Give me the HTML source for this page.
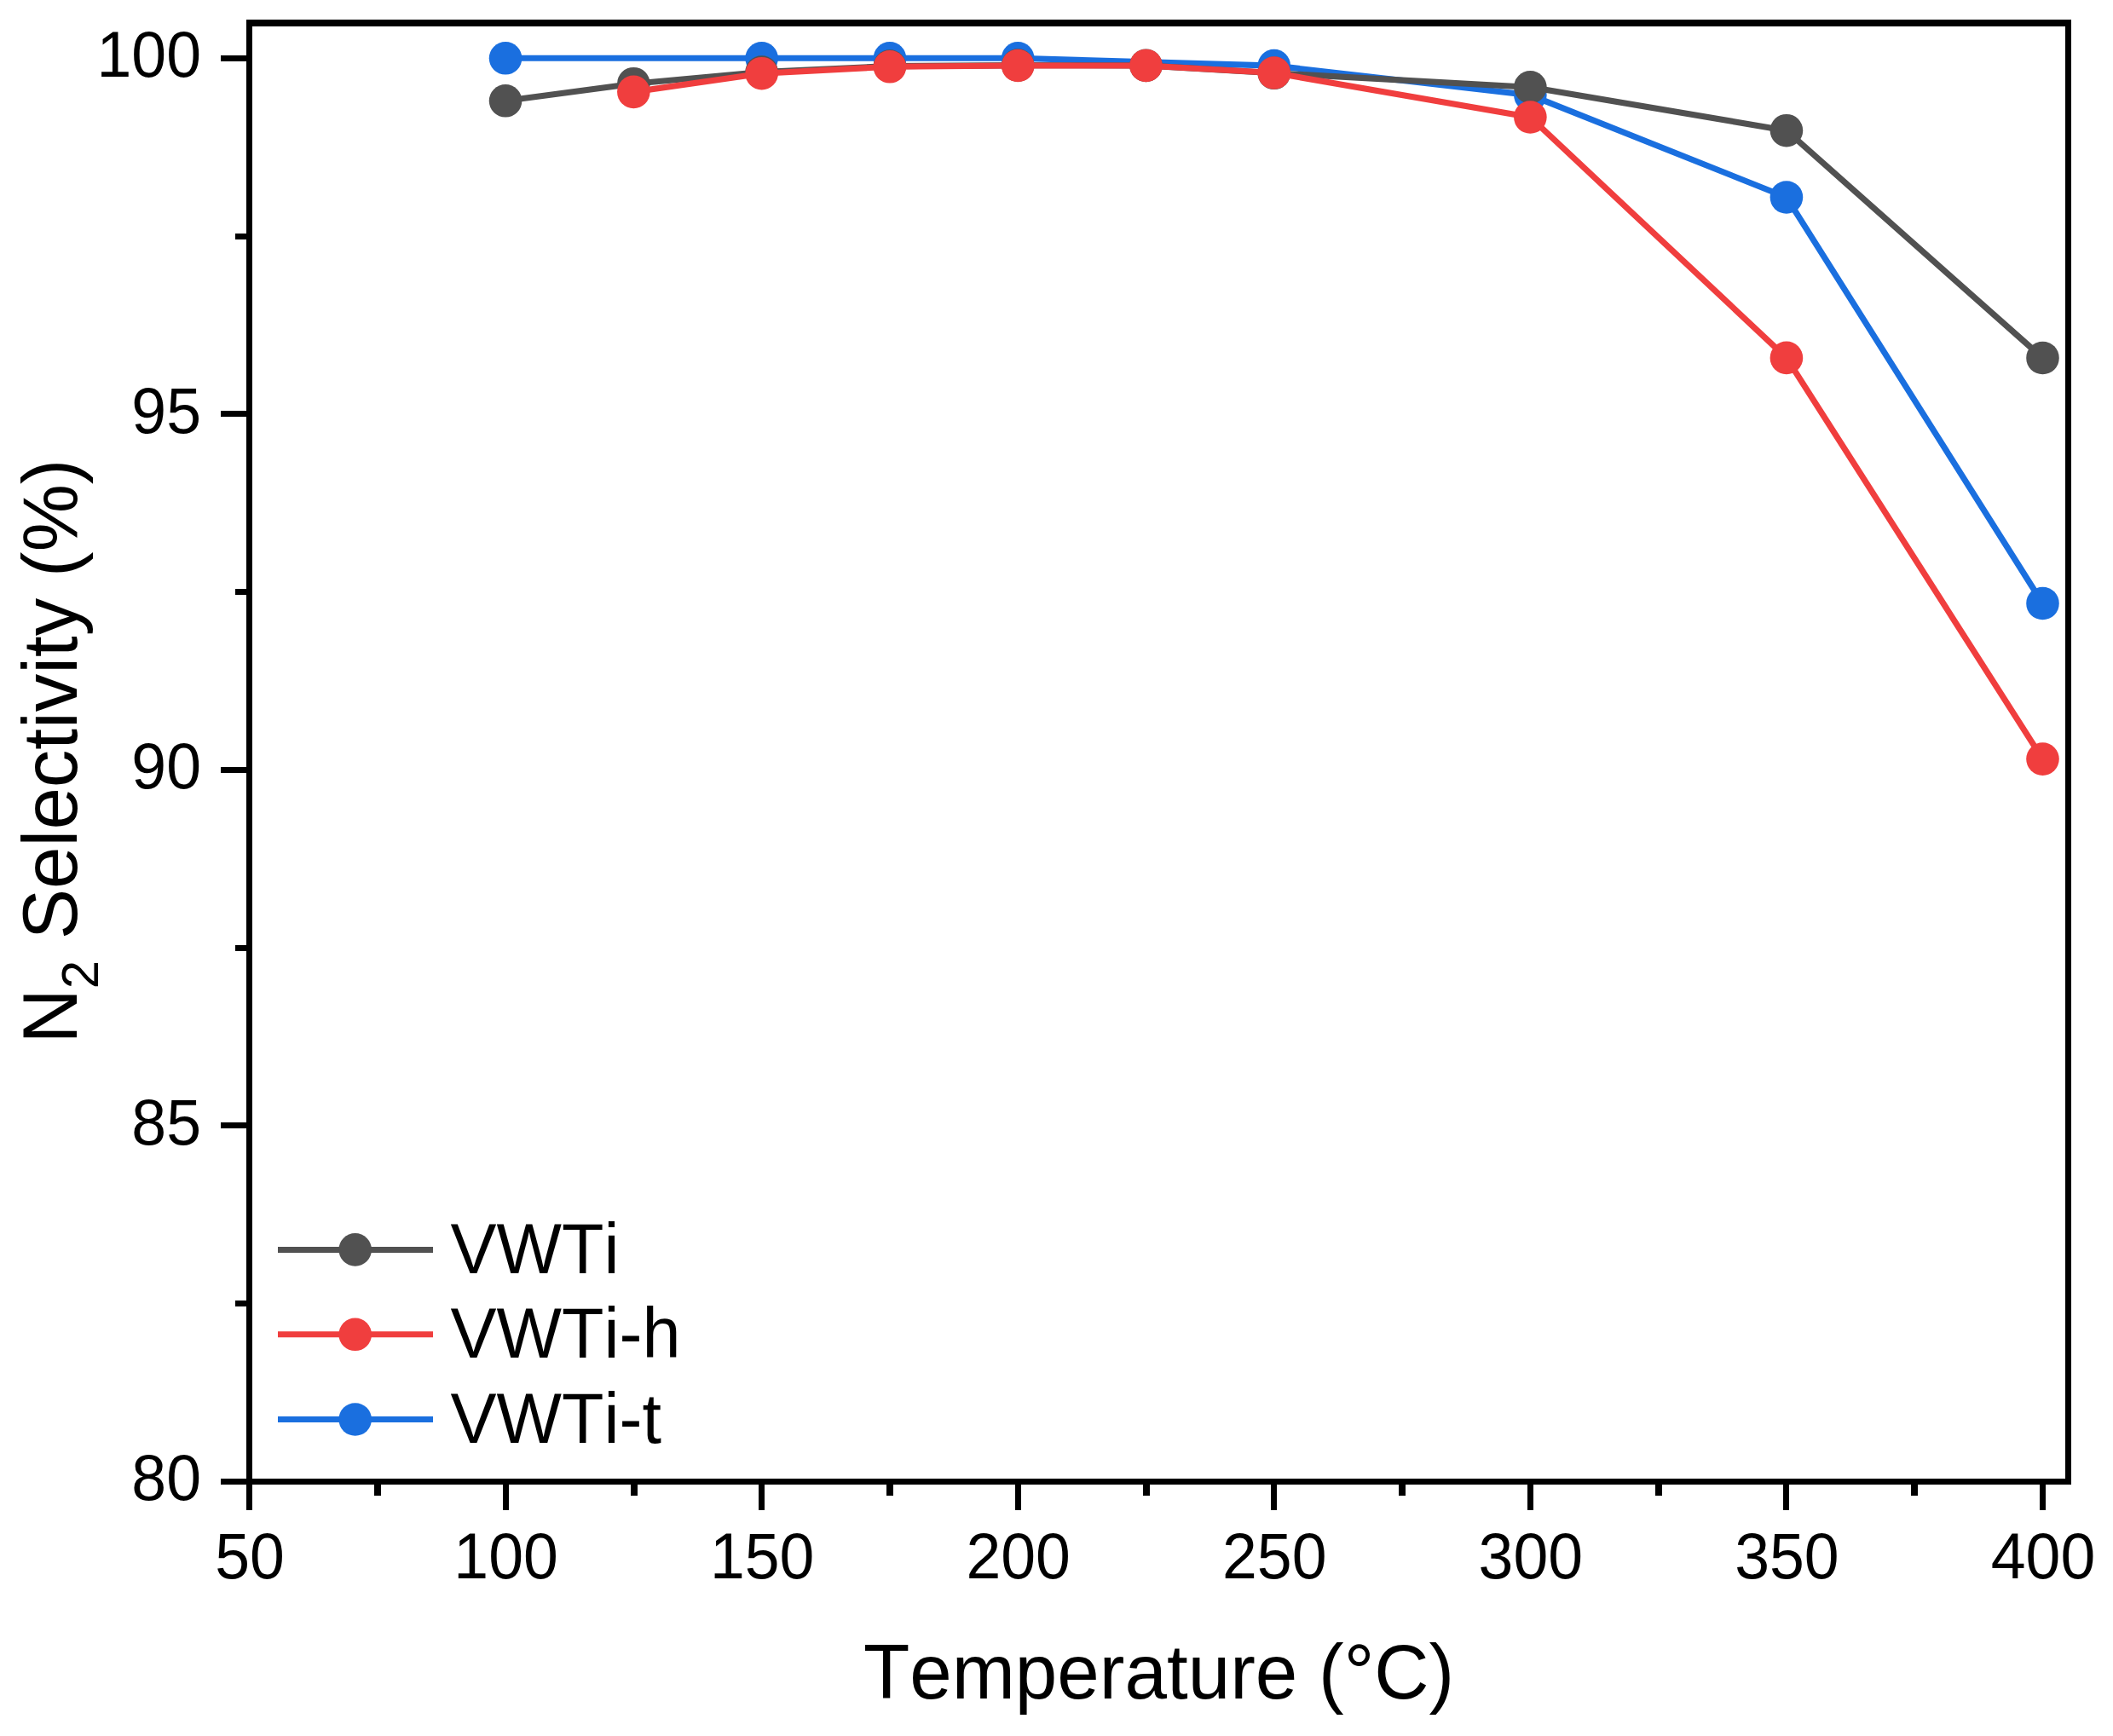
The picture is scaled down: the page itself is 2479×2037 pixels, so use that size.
<!DOCTYPE html>
<html><head><meta charset="utf-8"><title>N2 Selectivity vs Temperature</title>
<style>
html,body{margin:0;padding:0;background:#fff;}
svg{display:block;}
text{font-family:"Liberation Sans",Arial,sans-serif;fill:#000;font-kerning:none;}
</style></head>
<body>
<svg width="2479" height="2037" viewBox="0 0 2479 2037">
<rect width="2479" height="2037" fill="#fff"/>
<g shape-rendering="crispEdges">
<rect x="289.00" y="23.00" width="2141.00" height="8.00" fill="#000"/>
<rect x="289.00" y="1735.00" width="2141.00" height="7.00" fill="#000"/>
<rect x="289.00" y="23.00" width="7.00" height="1719.00" fill="#000"/>
<rect x="2423.00" y="23.00" width="7.00" height="1719.00" fill="#000"/>
<rect x="259.00" y="65.00" width="31.00" height="7.00" fill="#000"/>
<rect x="259.00" y="482.00" width="31.00" height="7.00" fill="#000"/>
<rect x="259.00" y="900.00" width="31.00" height="7.00" fill="#000"/>
<rect x="259.00" y="1317.00" width="31.00" height="7.00" fill="#000"/>
<rect x="259.00" y="1735.00" width="31.00" height="7.00" fill="#000"/>
<rect x="276.00" y="274.00" width="14.00" height="7.00" fill="#000"/>
<rect x="276.00" y="691.00" width="14.00" height="7.00" fill="#000"/>
<rect x="276.00" y="1109.00" width="14.00" height="7.00" fill="#000"/>
<rect x="276.00" y="1526.00" width="14.00" height="7.00" fill="#000"/>
<rect x="289.00" y="1741.00" width="7.00" height="31.00" fill="#000"/>
<rect x="590.00" y="1741.00" width="7.00" height="31.00" fill="#000"/>
<rect x="890.00" y="1741.00" width="7.00" height="31.00" fill="#000"/>
<rect x="1191.00" y="1741.00" width="7.00" height="31.00" fill="#000"/>
<rect x="1491.00" y="1741.00" width="7.00" height="31.00" fill="#000"/>
<rect x="1792.00" y="1741.00" width="7.00" height="31.00" fill="#000"/>
<rect x="2092.00" y="1741.00" width="7.00" height="31.00" fill="#000"/>
<rect x="2393.00" y="1741.00" width="7.00" height="31.00" fill="#000"/>
<rect x="439.00" y="1741.00" width="8.00" height="14.00" fill="#000"/>
<rect x="740.00" y="1741.00" width="8.00" height="14.00" fill="#000"/>
<rect x="1040.00" y="1741.00" width="8.00" height="14.00" fill="#000"/>
<rect x="1341.00" y="1741.00" width="8.00" height="14.00" fill="#000"/>
<rect x="1641.00" y="1741.00" width="8.00" height="14.00" fill="#000"/>
<rect x="1942.00" y="1741.00" width="8.00" height="14.00" fill="#000"/>
<rect x="2242.00" y="1741.00" width="8.00" height="14.00" fill="#000"/>
</g>
<polyline points="593.07,68.30 893.64,68.30 1043.92,68.30 1194.21,68.30 1494.78,77.10 1795.35,111.60 2095.92,231.50 2396.49,708.00" fill="none" stroke="#1A6FDF" stroke-width="7.1" stroke-linejoin="round"/><circle cx="593.07" cy="68.30" r="19.3" fill="#1A6FDF"/><circle cx="893.64" cy="68.30" r="19.3" fill="#1A6FDF"/><circle cx="1043.92" cy="68.30" r="19.3" fill="#1A6FDF"/><circle cx="1194.21" cy="68.30" r="19.3" fill="#1A6FDF"/><circle cx="1494.78" cy="77.10" r="19.3" fill="#1A6FDF"/><circle cx="1795.35" cy="111.60" r="19.3" fill="#1A6FDF"/><circle cx="2095.92" cy="231.50" r="19.3" fill="#1A6FDF"/><circle cx="2396.49" cy="708.00" r="19.3" fill="#1A6FDF"/>
<polyline points="593.07,118.30 743.36,98.20 893.64,84.50 1043.92,77.60 1194.21,76.60 1344.50,76.90 1494.78,85.80 1795.35,102.30 2095.92,153.20 2396.49,420.00" fill="none" stroke="#515151" stroke-width="7.1" stroke-linejoin="round"/><circle cx="593.07" cy="118.30" r="19.3" fill="#515151"/><circle cx="743.36" cy="98.20" r="19.3" fill="#515151"/><circle cx="893.64" cy="84.50" r="19.3" fill="#515151"/><circle cx="1043.92" cy="77.60" r="19.3" fill="#515151"/><circle cx="1194.21" cy="76.60" r="19.3" fill="#515151"/><circle cx="1344.50" cy="76.90" r="19.3" fill="#515151"/><circle cx="1494.78" cy="85.80" r="19.3" fill="#515151"/><circle cx="1795.35" cy="102.30" r="19.3" fill="#515151"/><circle cx="2095.92" cy="153.20" r="19.3" fill="#515151"/><circle cx="2396.49" cy="420.00" r="19.3" fill="#515151"/>
<polyline points="743.36,107.85 893.64,86.20 1043.92,78.30 1194.21,77.00 1344.50,76.95 1494.78,85.50 1795.35,137.50 2095.92,419.90 2396.49,890.60" fill="none" stroke="#F03E3E" stroke-width="7.1" stroke-linejoin="round"/><circle cx="743.36" cy="107.85" r="19.3" fill="#F03E3E"/><circle cx="893.64" cy="86.20" r="19.3" fill="#F03E3E"/><circle cx="1043.92" cy="78.30" r="19.3" fill="#F03E3E"/><circle cx="1194.21" cy="77.00" r="19.3" fill="#F03E3E"/><circle cx="1344.50" cy="76.95" r="19.3" fill="#F03E3E"/><circle cx="1494.78" cy="85.50" r="19.3" fill="#F03E3E"/><circle cx="1795.35" cy="137.50" r="19.3" fill="#F03E3E"/><circle cx="2095.92" cy="419.90" r="19.3" fill="#F03E3E"/><circle cx="2396.49" cy="890.60" r="19.3" fill="#F03E3E"/>
<line x1="326" y1="1466.40" x2="508" y2="1466.40" stroke="#515151" stroke-width="7"/>
<circle cx="416.7" cy="1466.40" r="19.3" fill="#515151"/>
<text transform="translate(528.60,1493.80) scale(1,1.035)" font-size="81" text-anchor="start">VWTi</text>
<line x1="326" y1="1565.80" x2="508" y2="1565.80" stroke="#F03E3E" stroke-width="7"/>
<circle cx="416.7" cy="1565.80" r="19.3" fill="#F03E3E"/>
<text transform="translate(528.60,1592.90) scale(1,1.035)" font-size="81" text-anchor="start">VWTi-h</text>
<line x1="326" y1="1665.50" x2="508" y2="1665.50" stroke="#1A6FDF" stroke-width="7"/>
<circle cx="416.7" cy="1665.50" r="19.3" fill="#1A6FDF"/>
<text transform="translate(528.60,1692.60) scale(1,1.035)" font-size="81" text-anchor="start">VWTi-t</text>
<text transform="translate(236.00,90.30) scale(1,1.04)" font-size="73.4" text-anchor="end">100</text>
<text transform="translate(236.00,507.80) scale(1,1.04)" font-size="73.4" text-anchor="end">95</text>
<text transform="translate(236.00,925.30) scale(1,1.04)" font-size="73.4" text-anchor="end">90</text>
<text transform="translate(236.00,1342.80) scale(1,1.04)" font-size="73.4" text-anchor="end">85</text>
<text transform="translate(236.00,1760.30) scale(1,1.04)" font-size="73.4" text-anchor="end">80</text>
<text transform="translate(293.00,1852.00) scale(1,1.04)" font-size="73.4" text-anchor="middle">50</text>
<text transform="translate(593.57,1852.00) scale(1,1.04)" font-size="73.4" text-anchor="middle">100</text>
<text transform="translate(894.14,1852.00) scale(1,1.04)" font-size="73.4" text-anchor="middle">150</text>
<text transform="translate(1194.71,1852.00) scale(1,1.04)" font-size="73.4" text-anchor="middle">200</text>
<text transform="translate(1495.28,1852.00) scale(1,1.04)" font-size="73.4" text-anchor="middle">250</text>
<text transform="translate(1795.85,1852.00) scale(1,1.04)" font-size="73.4" text-anchor="middle">300</text>
<text transform="translate(2096.42,1852.00) scale(1,1.04)" font-size="73.4" text-anchor="middle">350</text>
<text transform="translate(2396.99,1852.00) scale(1,1.04)" font-size="73.4" text-anchor="middle">400</text>
<text transform="translate(1359.50,1992.60) scale(1,1.015)" font-size="89" text-anchor="middle">Temperature (°C)</text>
<text transform="translate(90.1,1224.6) rotate(-90) scale(1,1.015)" font-size="89">N<tspan font-size="60" dy="24.5">2</tspan><tspan dy="-24.5"> Selectivity (%)</tspan></text>
</svg>
</body></html>
